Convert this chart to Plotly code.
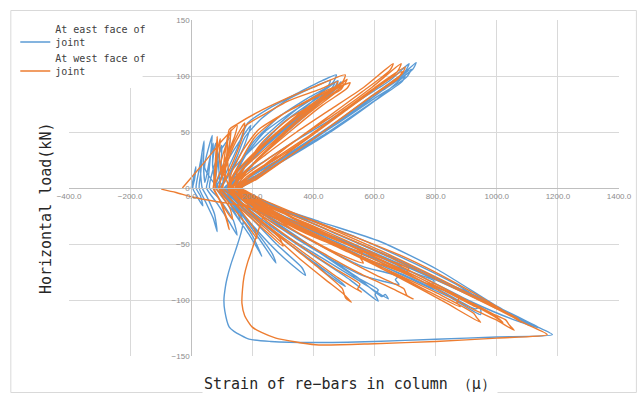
import plotly.graph_objects as go

# (strain, load) pairs
east_pts = [
    (0, 0), (6, 7), (15, 19), (11, 8), (5, 0), (18, -7), (38, -16), (30, -7), (16, 0),
    (24, 14), (36, 31), (31, 13), (26, 0), (48, -13), (72, -27), (85, -39), (76, -23), (50, -7), (36, 0),
    (30, 20), (42, 42), (40, 22), (45, 5), (60, 25), (72, 40), (70, 22), (78, 5), (90, 30), (100, 38), (98, 20), (104, 4), (90, 0),
    (44, 18), (57, 36), (69, 47), (62, 26), (55, 7), (50, 0), (88, -15), (126, -31), (150, -42), (138, -29), (90, -9), (60, 0),
    (70, 15), (95, 33), (128, 45), (116, 27), (96, 8), (82, 0), (132, -19), (188, -41), (221, -56), (231, -61), (203, -44), (148, -21), (96, -4), (78, 0),
    (98, 14), (140, 34), (195, 56), (171, 36), (126, 13), (94, 0), (158, -21), (224, -46), (277, -67), (266, -59), (208, -37), (138, -13), (90, 0),
    (70, 20), (80, 40), (88, 25), (95, 5), (120, -10), (160, -30), (150, -20), (110, -5), (100, 0),
    (112, 12), (150, 35), (185, 58), (260, 72), (350, 85), (430, 96), (475, 101), (466, 95), (398, 78), (298, 52), (198, 25), (128, 5), (108, 0),
    (160, -20), (240, -45), (302, -62), (374, -78), (362, -71), (282, -51), (190, -25), (116, -4), (100, 0),
    (120, 10), (150, 28), (175, 45), (230, 62), (310, 78), (400, 90), (455, 96), (448, 91), (380, 80), (290, 64), (200, 40), (140, 12), (118, 0),
    (170, -14), (260, -30), (360, -48), (460, -64), (560, -78), (680, -86), (668, -82), (676, -79), (560, -70), (440, -54), (320, -36), (200, -16), (125, 0),
    (130, 14), (192, 33), (282, 56), (382, 78), (440, 88), (480, 96), (470, 90), (390, 70), (290, 45), (190, 18), (125, 2), (114, 0),
    (168, -17), (270, -40), (380, -62), (450, -78), (504, -88), (490, -84), (400, -66), (290, -44), (180, -18), (112, 0),
    (140, 10), (180, 30), (240, 50), (320, 66), (410, 82), (470, 94), (460, 89), (390, 76), (300, 58), (210, 32), (150, 8), (128, 0),
    (185, -12), (300, -28), (420, -44), (560, -62), (700, -78), (800, -90), (790, -86), (795, -83), (690, -72), (540, -56), (390, -38), (250, -20), (135, 0),
    (138, 12), (208, 30), (300, 52), (390, 72), (458, 88), (450, 84), (380, 66), (280, 42), (180, 16), (120, 0),
    (175, -16), (290, -40), (410, -62), (520, -82), (612, -101), (602, -95), (612, -91), (530, -78), (410, -56), (270, -30), (150, -7), (118, 0),
    (150, 14), (230, 34), (320, 55), (410, 75), (460, 85), (490, 95), (480, 90), (400, 72), (300, 48), (200, 20), (130, 0),
    (185, -18), (305, -42), (425, -62), (545, -82), (645, -99), (635, -95), (625, -97), (545, -80), (425, -58), (285, -32), (152, -8), (122, 0),
    (200, -10), (360, -26), (540, -44), (720, -66), (880, -88), (1000, -108), (990, -104), (880, -90), (700, -70), (500, -48), (320, -28), (190, -8), (150, 0),
    (160, 10), (240, 24), (340, 42), (450, 60), (560, 80), (650, 96), (713, 111), (700, 104), (600, 84), (480, 60), (350, 36), (230, 14), (150, 0),
    (200, -16), (350, -36), (520, -56), (700, -79), (850, -98), (947, -113), (945, -106), (930, -108), (820, -92), (650, -70), (450, -45), (280, -22), (150, -4), (130, 0),
    (180, 8), (270, 22), (380, 40), (490, 60), (590, 80), (670, 96), (736, 112), (725, 106), (620, 86), (500, 62), (360, 36), (240, 14), (160, 0),
    (220, -15), (400, -36), (600, -58), (800, -82), (960, -102), (1060, -115), (1106, -122), (1090, -118), (1000, -106), (850, -88), (650, -62), (450, -38), (260, -15), (150, 0),
    (190, 10), (290, 26), (400, 45), (510, 65), (620, 86), (720, 106), (705, 99), (600, 80), (470, 56), (330, 32), (210, 10), (150, 0),
    (210, -14), (380, -34), (570, -56), (760, -80), (920, -102), (1050, -117), (1140, -125), (1120, -122), (1030, -110), (860, -88), (660, -62), (450, -38), (260, -14), (160, 0),
    (200, 8), (300, 24), (410, 42), (520, 62), (630, 84), (700, 100), (690, 95), (590, 76), (460, 52), (320, 28), (200, 6), (165, 0),
    (230, -12), (420, -30), (620, -48), (807, -73), (1003, -106), (1100, -120), (1182, -131),
    (1000, -133), (800, -135), (600, -137), (400, -138), (260, -137), (189, -135), (140, -128), (124, -124), (110, -110),
    (107, -100), (112, -88), (117, -81), (130, -68), (146, -55), (163, -40), (170, -30), (150, -18), (120, -6),
]

west_pts = [
    (-29, 0), (-10, 6), (40, 22), (100, 42), (150, 56), (142, 46), (112, 26), (82, 6), (72, 0),
    (95, -12), (115, -28), (124, -37), (116, -27), (92, -10), (74, 0),
    (78, 20), (85, 46), (84, 28), (78, 8), (72, 0), (100, -14), (135, -28), (128, -19), (95, -5), (80, 0),
    (80, 25), (95, 44), (92, 28), (100, 10), (110, 30), (120, 48), (118, 30), (125, 8), (130, 0),
    (96, 20), (116, 40), (130, 52), (124, 36), (104, 12), (90, 0), (138, -18), (188, -35), (215, -45), (207, -37), (152, -17), (102, -3), (92, 0),
    (105, 16), (130, 35), (160, 52), (175, 58), (168, 46), (135, 22), (105, 4), (98, 0),
    (160, -18), (230, -35), (300, -52), (290, -45), (220, -27), (140, -8), (104, 0),
    (110, 10), (118, 35), (124, 52), (150, 57), (220, 68), (296, 78), (400, 90), (504, 101), (496, 95), (420, 80), (320, 58), (210, 30), (140, 8), (120, 0),
    (170, -18), (260, -40), (350, -62), (440, -82), (500, -95), (524, -102), (505, -98), (495, -90), (420, -72), (320, -50), (220, -28), (140, -6), (125, 0),
    (110, 14), (140, 38), (180, 56), (240, 66), (320, 78), (420, 88), (480, 95), (472, 90), (400, 80), (300, 66), (210, 46), (150, 18), (120, 0),
    (160, -12), (250, -26), (350, -40), (460, -56), (563, -67), (553, -62), (560, -58), (460, -50), (340, -36), (220, -18), (130, 0),
    (140, 12), (200, 30), (290, 52), (400, 76), (470, 88), (520, 94), (510, 89), (430, 74), (330, 52), (220, 26), (145, 5), (130, 0),
    (180, -18), (280, -40), (380, -60), (480, -80), (557, -93), (545, -90), (552, -86), (470, -72), (360, -52), (240, -28), (150, -6), (132, 0),
    (130, 12), (170, 34), (220, 52), (300, 66), (380, 78), (450, 88), (500, 93), (490, 88), (410, 76), (320, 62), (230, 40), (160, 12), (135, 0),
    (200, -14), (330, -32), (470, -50), (620, -70), (760, -90), (880, -106), (870, -102), (876, -98), (760, -84), (600, -64), (430, -44), (280, -24), (150, 0),
    (150, 14), (220, 34), (310, 55), (400, 74), (450, 84), (490, 92), (480, 87), (400, 70), (300, 48), (200, 20), (138, 0),
    (190, -14), (320, -32), (460, -50), (600, -66), (720, -78), (705, -76), (712, -72), (620, -62), (470, -46), (320, -28), (190, -8), (140, 0),
    (160, 14), (230, 32), (320, 54), (420, 78), (470, 88), (510, 97), (500, 92), (420, 76), (320, 52), (210, 24), (150, 0),
    (195, -18), (310, -38), (430, -58), (550, -76), (660, -90), (726, -99), (706, -96), (696, -90), (606, -78), (466, -58), (326, -36), (196, -12), (145, 0),
    (165, 12), (245, 30), (345, 50), (455, 70), (565, 90), (661, 111), (650, 105), (560, 86), (440, 62), (320, 38), (210, 14), (152, 0),
    (210, -18), (360, -38), (520, -58), (680, -80), (830, -102), (947, -120), (935, -116), (925, -112), (820, -96), (650, -74), (460, -50), (290, -25), (160, -3), (148, 0),
    (172, 10), (262, 28), (372, 48), (482, 68), (592, 90), (687, 111), (675, 104), (580, 84), (460, 60), (330, 34), (220, 12), (156, 0),
    (220, -16), (390, -36), (570, -58), (760, -84), (920, -108), (1000, -118), (1057, -127), (1040, -122), (1030, -118), (930, -106), (760, -82), (560, -56), (360, -30), (200, -8), (152, 0),
    (182, 10), (282, 28), (392, 48), (502, 70), (612, 92), (700, 108), (690, 102), (590, 82), (470, 58), (340, 32), (220, 10), (160, 0),
    (200, -10), (350, -24), (520, -42), (700, -62), (860, -84), (1000, -106), (1080, -120), (1065, -116), (980, -104), (820, -82), (620, -56), (420, -32), (230, -10), (160, 0),
    (230, -14), (400, -34), (580, -56), (760, -80), (900, -100), (990, -113), (1020, -120), (1005, -117), (920, -104), (760, -82), (570, -58), (380, -34), (220, -10), (165, 0),
    (190, 10), (290, 28), (400, 48), (510, 70), (610, 90), (690, 104), (678, 98), (580, 80), (460, 56), (330, 30), (215, 8), (165, 0),
    (240, -14), (420, -34), (620, -58), (820, -84), (1000, -108), (1100, -122), (1165, -131),
    (1000, -134), (800, -137), (600, -139), (407, -140), (277, -134), (230, -129), (199, -124), (175, -114), (166, -103),
    (168, -90), (173, -79), (185, -66), (199, -55), (228, -31), (240, -22), (200, -18), (150, -15), (80, -12), (3, -8),
    (-50, -4), (-98, -1),
]

east_strain = [p[0] for p in east_pts]
east_load = [p[1] for p in east_pts]
west_strain = [p[0] for p in west_pts]
west_load = [p[1] for p in west_pts]

series_names = ["At east face of<br>joint", "At west face of<br>joint"]
series_colors = ["#5B9BD5", "#ED7D31"]

x_range = [-400, 1400]
y_range = [-150, 150]

fig = go.Figure()
fig.add_trace(go.Scatter(x=east_strain, y=east_load, mode="lines", name=series_names[0],
                         line=dict(color=series_colors[0], width=1.4, shape="spline", smoothing=0.6)))
fig.add_trace(go.Scatter(x=west_strain, y=west_load, mode="lines", name=series_names[1],
                         line=dict(color=series_colors[1], width=1.4, shape="spline", smoothing=0.6)))

W, H = 644, 398
L, R, T, B = 69, 22, 20, 42
pw, ph = W - L - R, H - T - B


def px(xp):
    return (xp - L) / pw


def py(yp):
    return (H - B - yp) / ph


x0_frac = (0 - x_range[0]) / (x_range[1] - x_range[0])
y0_frac = (0 - y_range[0]) / (y_range[1] - y_range[0])

tick_font = dict(family="Liberation Sans, Arial, sans-serif", size=8, color="#8C8C8C")
fig.update_layout(
    width=W, height=H,
    margin=dict(l=L, r=R, t=T, b=B),
    paper_bgcolor="white", plot_bgcolor="white",
    xaxis=dict(range=x_range, tick0=-400, dtick=200, tickformat=".1f",
               showgrid=True, gridcolor="#D9D9D9", gridwidth=1,
               zeroline=False, showline=True, linecolor="#BFBFBF", linewidth=1,
               anchor="free", position=y0_frac, ticks="", tickfont=tick_font),
    yaxis=dict(range=y_range, tick0=-150, dtick=50,
               showgrid=True, gridcolor="#D9D9D9", gridwidth=1,
               zeroline=False, showline=True, linecolor="#BFBFBF", linewidth=1,
               anchor="free", position=x0_frac, ticks="", tickfont=tick_font),
    legend=dict(x=px(15), y=py(16), xanchor="left", yanchor="top",
                bgcolor="rgba(0,0,0,0)", valign="bottom", tracegroupgap=0,
                font=dict(family="DejaVu Sans Mono, monospace", size=10, color="#404040")),
    showlegend=True,
    shapes=[
        dict(type="rect", xref="paper", yref="paper", x0=px(11), x1=px(143), y0=py(88), y1=py(11),
             fillcolor="white", line=dict(width=0), layer="above"),
        dict(type="rect", xref="paper", yref="paper", x0=px(10.5), x1=px(639.5), y0=py(392.5), y1=py(10.5),
             fillcolor="rgba(0,0,0,0)", line=dict(color="#D9D9D9", width=1), layer="above"),
    ],
    annotations=[
        dict(text="Horizontal load(kN)", xref="paper", yref="paper", x=px(46), y=py(208),
             textangle=-90, showarrow=False, xanchor="center", yanchor="middle",
             font=dict(family="DejaVu Sans Mono, monospace", size=15, color="#262626")),
        dict(text="Strain of re\u2212bars in column \uff08\u03bc\uff09", xref="paper", yref="paper",
             x=px(352), y=py(384), showarrow=False, xanchor="center", yanchor="middle",
             bgcolor="white",
             font=dict(family="DejaVu Sans Mono, monospace", size=15, color="#262626")),
    ],
)

fig.write_html("out.html")
